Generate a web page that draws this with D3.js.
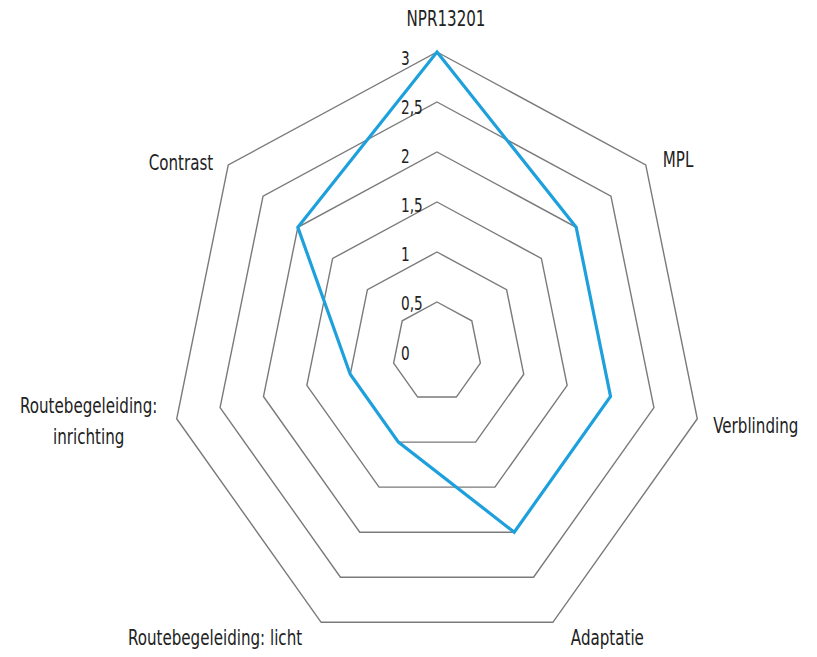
<!DOCTYPE html>
<html>

<head>
  <meta charset="utf-8">
  <title>Radar Chart</title>
  <script src="https://d3js.org/d3.v7.min.js"></script>
  <style>
    body { margin: 0; background: #fff; }
    text { font-family: "DejaVu Sans Condensed", "Liberation Sans", sans-serif; fill: #222; }
  </style>
</head>

<body>
  <svg width="817" height="657"></svg>
  <script>
    // chart data
    const categories = ["NPR13201", "MPL", "Verblinding", "Adaptatie",
      "Routebegeleiding: licht", "Routebegeleiding:\ninrichting", "Contrast"];
    const scores = [3, 2, 2, 2, 1, 1, 2];
    const levels = [0.5, 1, 1.5, 2, 2.5, 3];
    const tickLabels = ["0", "0,5", "1", "1,5", "2", "2,5", "3"];

    const svg = d3.select("svg");
    const cx = 437, cy = 352;
    const squeeze = 0.8; // the original font is a narrow one

    // picture is a little squeezed horizontally, so separate x/y radius scales
    const rX = d3.scaleLinear().domain([0, 3]).range([0, 267]);
    const rY = d3.scaleLinear().domain([0, 3]).range([0, 300]);
    const angle = i => i * 2 * Math.PI / categories.length;

    const px = (v, i) => cx + rX(v) * Math.sin(angle(i));
    const py = (v, i) => cy - rY(v) * Math.cos(angle(i));

    const ring = d3.line()
      .x(d => px(d.v, d.i))
      .y(d => py(d.v, d.i))
      .curve(d3.curveLinearClosed);

    // grid heptagons
    svg.append("g")
      .selectAll("path")
      .data(levels)
      .join("path")
      .attr("d", lv => ring(categories.map((c, i) => ({ v: lv, i }))))
      .attr("fill", "none")
      .attr("stroke", "#7a7a7a")
      .attr("stroke-width", 1.4);

    // tick labels along the top axis
    const tickY = d3.scaleLinear().domain([0, 3]).range([353, 58]);
    svg.append("g")
      .selectAll("g")
      .data(tickLabels)
      .join("g")
      .attr("transform", (d, i) => `translate(${cx - 36},${tickY(i * 0.5)}) scale(${squeeze},1)`)
      .append("text")
      .attr("dy", "0.35em")
      .attr("font-size", 19)
      .text(d => d);

    // data polygon
    svg.append("path")
      .attr("d", ring(scores.map((v, i) => ({ v, i }))))
      .attr("fill", "none")
      .attr("stroke", "#1ea0dc")
      .attr("stroke-width", 3.2)
      .attr("stroke-linejoin", "miter");

    // category labels
    const placement = [
      [9, -33, "middle"], [17, -5, "start"], [16, 7, "start"], [18, 15, "start"],
      [-19, 15, "end"], [-88, -13, "middle"], [-15, -2, "end"]
    ];
    svg.append("g")
      .selectAll("g")
      .data(categories)
      .join("g")
      .attr("transform", (d, i) =>
        `translate(${px(3, i) + placement[i][0]},${py(3, i) + placement[i][1]}) scale(${squeeze},1)`)
      .append("text")
      .attr("text-anchor", (d, i) => placement[i][2])
      .attr("font-size", 21)
      .each(function (d) {
        d3.select(this).selectAll("tspan")
          .data(d.split("\n"))
          .join("tspan")
          .attr("x", 0)
          .attr("dy", (l, j) => j === 0 ? "0.35em" : "1.45em")
          .text(l => l);
      });
  </script>
</body>

</html>
